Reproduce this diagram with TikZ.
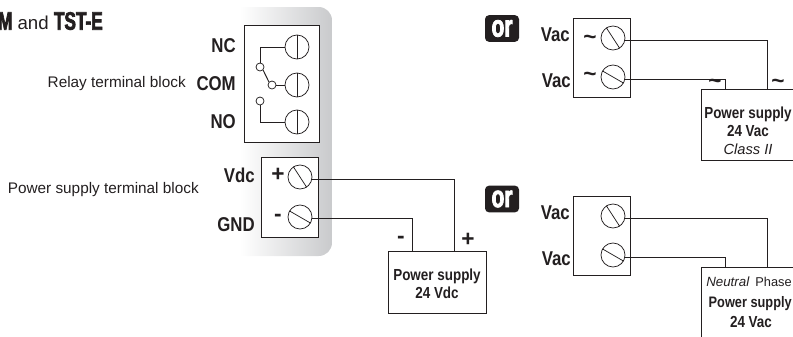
\documentclass[tikz,border=0pt]{standalone}
\usepackage{fontspec}
\setmainfont{Liberation Sans}
\newfontfamily\narrowf[FakeStretch=0.84]{Liberation Sans}
\newfontfamily\heavyf[FakeStretch=0.68,FakeBold=2.5]{Liberation Sans Bold}
\usetikzlibrary{calc}
\definecolor{ink}{HTML}{231F20}
\definecolor{panelg}{HTML}{C9CACC}
\tikzset{
  wire/.style={draw=ink,line width=0.7pt},
  blockbox/.style={draw=ink,line width=0.7pt,fill=white},
  screwc/.style={circle,draw=ink,line width=0.55pt,fill=white,minimum size=18pt,inner sep=0pt},
  contact/.style={circle,draw=ink,line width=0.55pt,fill=white,minimum size=6pt,inner sep=0pt},
  lab/.style={font=\narrowf\bfseries\fontsize{15}{17}\selectfont,text=ink,inner sep=0pt},
  plain/.style={font=\fontsize{11.5}{13}\selectfont,text=ink,inner sep=0pt},
  small/.style={font=\fontsize{9.6}{12}\selectfont,text=ink,inner sep=0pt},
  psbold/.style={font=\narrowf\bfseries\fontsize{12}{13.5}\selectfont,text=ink,inner sep=0pt},
  psital/.style={font=\itshape\fontsize{10}{12}\selectfont,text=ink,inner sep=0pt},
  sign/.style={font=\bfseries\fontsize{17}{18}\selectfont,text=ink,inner sep=0pt},
  orbadge/.style={fill=ink,rounded corners=3pt,minimum width=25.5pt,minimum height=20pt,inner sep=0pt,text=white,font=\heavyf\fontsize{23}{23}\selectfont}
}
\newcommand{\screw}[4]{% name, x, y, angle
  \node[screwc] (#1) at (#2,#3) {};
  \draw[ink,line width=0.55pt] (#1.#4) -- (#1.{#4+180});
}
\begin{document}
\begin{tikzpicture}[x=0.75pt,y=-0.75pt]
\useasboundingbox (0,0) rectangle (793,336);
% grey panel
\begin{scope}
  \clip[rounded corners=10pt] (200,7) rectangle (332,256);
  \shade[left color=white,right color=panelg,shading angle=90] (240,7) rectangle (332,256);
\end{scope}
\fill[white] (190,0) rectangle (240,336);
% title
\node[anchor=east,inner sep=0pt,text=ink] (title) at (103,21) {{\heavyf\fontsize{19}{20}\selectfont M}{\fontsize{14}{16}\selectfont\ and }{\heavyf\fontsize{19}{20}\selectfont TST-E}};
% relay block
\node[blockbox,minimum width=56.25pt,minimum height=87.75pt,inner sep=0pt,anchor=north west] (relay) at (244,25) {};
\screw{s1}{297}{47}{90}
\screw{s2}{297}{85}{90}
\screw{s3}{297}{122}{90}
\node[contact] (c1) at (260,67) {};
\node[contact] (c2) at (272,85) {};
\node[contact] (c3) at (260,101) {};
\draw[wire] (s1.west) -- (260,47) -- (c1.north);
\draw[wire] (c1.south east) -- (c2.north west);
\draw[wire] (c2.east) -- (s2.west);
\draw[wire] (c3.south) -- (260,122) -- (s3.west);
\node[lab,anchor=east] (nc) at (236,46) {NC};
\node[lab,anchor=east] (com) at (236,84) {COM};
\node[lab,anchor=east] (no) at (236,122) {NO};
\node[plain,anchor=east] (rl) at (186,84) {Relay terminal block};
% power block
\node[blockbox,minimum width=42.75pt,minimum height=60pt,inner sep=0pt,anchor=north west] (pblock) at (261,157) {};
\screw{s4}{300}{177}{-57}
\screw{s5}{300}{217}{-30}
\node[sign] (plus) at (278,175) {+};
\node[sign] (minus) at (278,218) {-};
\node[lab,anchor=east] (vdc) at (255,175) {Vdc};
\node[lab,anchor=east] (gnd) at (255,225) {GND};
\node[plain,anchor=east] (pl) at (199,190) {Power supply terminal block};
% Vdc supply
\node[blockbox,minimum width=73.5pt,minimum height=46.5pt,inner sep=0pt,anchor=north west] (ps1) at (388,251) {};
\node[psbold,align=center] (ps1t) at (437,284) {Power supply\\24 Vdc};
\coordinate (p1a) at (454,251);
\coordinate (p1b) at (412,251);
\draw[wire] (s4.east |- 0,179) -- (454,179) -- (p1a);
\draw[wire] (s5.east |- 0,218) -- (412,218) -- (p1b);
\node[sign] (m2) at (401,240) {-};
\node[sign] (p2) at (468,240) {+};
% or badges
\node[orbadge] (or1) at (502,28.5) {or};
\node[orbadge] (or2) at (502,199) {or};
% Vac block 1
\node[blockbox,minimum width=42.75pt,minimum height=59.25pt,inner sep=0pt,anchor=north west] (v1) at (573,18) {};
\screw{s6}{613}{38}{-57}
\screw{s7}{613}{77}{-30}
\node[lab,anchor=east] (va1) at (570,35) {Vac};
\node[lab,anchor=east] (va2) at (571,81) {Vac};
\node[sign] (t1) at (590,40) {\textasciitilde};
\node[sign] (t2) at (590,77) {\textasciitilde};
% supply 2
\draw[blockbox] (795,89) -- (701,89) -- (701,160) -- (795,160);
\coordinate (p2a) at (767,89);
\coordinate (p2b) at (725,89);
\draw[wire] (s6.east |- 0,40) -- (767,40) -- (p2a);
\draw[wire] (s7.east |- 0,79) -- (725,79) -- (p2b);
\node[sign] (t3) at (715,84) {\textasciitilde};
\node[sign] (t4) at (778,84) {\textasciitilde};
\node[psbold,align=center] (ps2t) at (748,131) {Power supply\\24 Vac\\\textnormal{\itshape\fontsize{11}{13.5}\selectfont Class II}};
% Vac block 2
\node[blockbox,minimum width=42.75pt,minimum height=59.25pt,inner sep=0pt,anchor=north west] (v2) at (573,196) {};
\screw{s8}{613}{216}{-57}
\screw{s9}{613}{255}{-30}
\node[lab,anchor=east] (va3) at (570,213) {Vac};
\node[lab,anchor=east] (va4) at (571,259) {Vac};
% supply 3
\draw[blockbox] (795,267) -- (701,267) -- (701,340);
\coordinate (p3a) at (767,267);
\coordinate (p3b) at (725,267);
\draw[wire] (s8.east |- 0,218) -- (767,218) -- (p3a);
\draw[wire] (s9.east |- 0,257) -- (725,257) -- (p3b);
\node[psital,anchor=west] (neu) at (706,282) {Neutral};
\node[small,anchor=east] (pha) at (792,282) {Phase};
\node[psbold,anchor=east,font=\narrowf\bfseries\fontsize{11.4}{13}\selectfont] (ps3a) at (792,304) {Power supply};
\node[psbold] (ps3b) at (751,322) {24 Vac};
\end{tikzpicture}
\end{document}
